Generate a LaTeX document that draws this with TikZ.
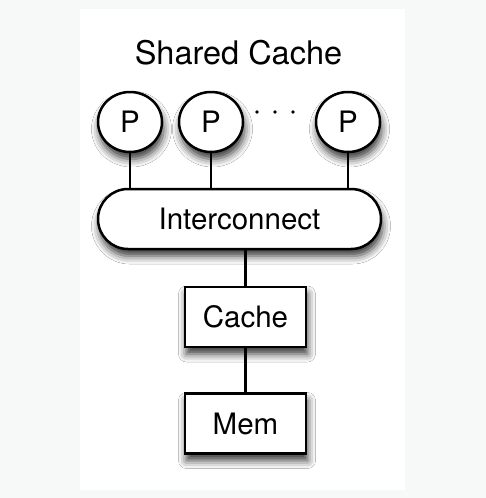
\documentclass[tikz,border=0pt]{standalone}
\usepackage{fontspec}
\setmainfont{TeX Gyre Heros}
\usetikzlibrary{shapes.geometric,shadows.blur}
\definecolor{pagegray}{HTML}{F7F9F9}

\begin{document}
\begin{tikzpicture}[x=1pt,y=-1pt,
  every node/.style={font=\fontsize{29.5pt}{34pt}\selectfont},
  shadowed/.style={blur shadow={shadow xshift=1.5pt,shadow yshift=-7pt,shadow blur radius=8pt,shadow opacity=80}},
  proc/.style={shape=ellipse,draw=black,line width=2.5pt,fill=white,minimum width=64pt,minimum height=60pt,inner sep=0pt,shadowed},
  bus/.style={shape=rectangle,draw=black,line width=2.5pt,fill=white,rounded corners=30pt,minimum width=283pt,minimum height=60pt,shadowed},
  unit/.style={shape=rectangle,draw=black,line width=2.5pt,fill=white,minimum width=121pt,minimum height=60pt,shadowed},
  wire/.style={line width=2.2pt}]
\fill[pagegray] (0,0) rectangle (486,498);
\fill[white] (80,9) rectangle (405,490);
\useasboundingbox (0,0) rectangle (486,498);

\node[anchor=base,font=\fontsize{32.5pt}{38pt}\selectfont] (T) at (238.5,64) {Shared Cache};

\node[proc] (P1) at (130,122) {P};
\node[proc] (P2) at (211,122) {P};
\node[proc] (P3) at (348,122) {P};
\foreach \x in {257,275,293} \fill (\x,112) circle (1.8);

\node[bus] (IC) at (239.5,219) {Interconnect};
\node[unit] (C) at (245.5,317) {Cache};
\node[unit] (M) at (245.5,423.5) {Mem};

\draw[wire] (P1.south) -- (P1.south |- IC.north);
\draw[wire] (P2.south) -- (P2.south |- IC.north);
\draw[wire] (P3.south) -- (P3.south |- IC.north);
\draw[wire] (C.north |- IC.south) -- (C.north);
\draw[wire] (C.south) -- (M.north);
\end{tikzpicture}
\end{document}
